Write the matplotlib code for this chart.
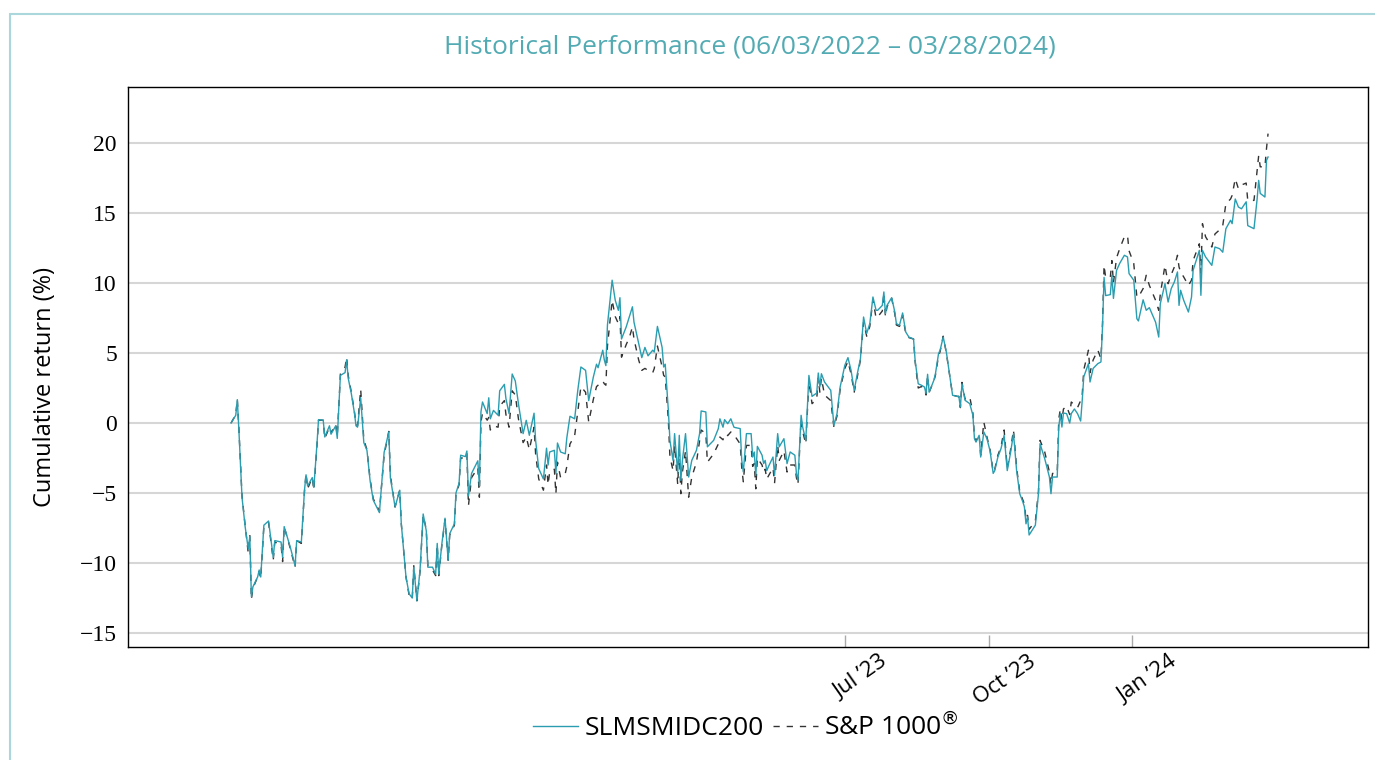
import pandas as pd
import matplotlib
matplotlib.use("Agg")
from matplotlib import pyplot as plt
from matplotlib.patches import Rectangle
import matplotlib.transforms as mtransforms

# days counted from the first date of the period
start_date = "2022-06-03"
day_offsets = [
    0, 3, 4, 5, 7, 9, 11, 12, 13, 14, 17, 18, 19, 21, 24, 27, 28, 32, 33, 34, 38, 41, 42, 45, 47,
    48, 49, 52, 53, 55, 56, 59, 60, 63, 64, 67, 68, 69, 70, 73, 74, 75, 77, 79, 80, 81, 83, 85,
    87, 89, 91, 95, 98, 101, 102, 103, 105, 108, 109, 112, 114, 116, 117, 119, 121, 123, 125, 126, 129, 131, 132, 133,
    135, 137, 139, 140, 143, 144, 146, 147, 150, 151, 152, 154, 158, 159, 160, 161, 164, 165, 166, 168, 171,
    172, 175, 176, 178, 180, 182, 184, 187, 189, 191, 194, 195, 197, 200, 202, 203, 204, 207, 208, 209,
    211, 214, 215, 217, 220, 222, 224, 227, 229, 232, 234, 235, 238, 239, 240, 241,
    244, 246, 248, 249, 250, 253, 255, 257, 258, 261, 263, 265, 267, 270, 271, 273, 276, 277, 278, 280,
    281, 283, 284, 286, 287, 288, 289, 291, 293, 295, 298, 300, 301, 304, 305, 309, 312, 313, 315, 316,
    318, 320, 322, 323, 326,
    327, 328, 330, 333, 334, 335, 336, 337, 340, 341, 342, 343, 344, 347, 348, 350, 351, 354, 356, 358,
    361, 362, 363, 365, 366, 368, 370, 372, 375, 376, 377, 378, 380, 384, 386, 388, 390, 393, 395, 397,
    399, 401, 403,
    404, 405, 407, 409, 411, 413, 414, 417, 418, 419, 420, 423, 425, 426, 428, 430, 432, 434, 437, 438,
    440, 442, 444, 445, 446, 447, 450, 451, 453, 454, 456, 458, 460, 462, 465, 466, 467, 468, 470, 473,
    475, 476, 477, 479, 480, 482, 484, 486,
    488, 489, 491, 493, 495, 497, 499, 501, 503, 505, 507, 508, 509, 510, 511, 515, 517, 518, 521, 524,
    525, 526, 529, 530, 531, 532, 533, 535, 537, 538, 540, 542, 544, 545, 546, 549, 550, 552, 555, 557,
    558, 559, 560, 563, 564, 565, 567, 569, 572, 574, 575,
    578, 580, 581, 584, 586, 588, 592, 594, 595, 598, 600, 602, 604, 606, 607, 608, 610, 613, 615, 616,
    620, 621, 622, 624, 628, 630, 633, 635, 637, 640, 641, 643, 645, 647, 650, 651, 655, 657, 658, 659,
    662, 663, 664,
]

slms_return = [
    0, 0.55, 1.67, -0.5, -5.3, -7.4, -9.0, -8.1, -12.4, -11.7, -11.0, -10.5, -11.0, -7.3, -7.0, -9.6, -8.4, -8.5, -9.6, -7.4,
    -8.9, -10.2, -8.4, -8.5, -4.8, -3.7, -4.5, -3.9, -4.6, -1.5, 0.24, 0.2, -1.0, -0.2, -0.8, -0.2, -1.1, 1.1, 3.4, 3.6,
    4.5, 3.2, 2.1, 0.7, -0.2, -0.3, 1.8, -1.4,
    -1.95, -4.1, -5.5, -6.4, -2.1, -0.64, -3.9, -4.6, -6.0, -4.8, -7.2, -11.0, -12.2, -12.5, -10.3, -12.7, -10.5, -6.5, -7.7, -10.3,
    -10.3, -10.8, -8.6, -10.8, -8.6, -6.8, -9.8, -7.9, -7.2, -5.0, -4.3, -2.3, -2.4, -2.0, -5.2, -3.6, -2.7, -4.5, 0.8, 1.5,
    0.67, 1.8, 0.3, 0.9, 0.55,
    2.3, 2.76, 1.74, 0.67, 3.5, 3.0, 1.38, -0.76, 0.19, -0.88, 0.7, -1.24, -3.26, -4.0, -1.8, -3.0, -2.07, -1.95, -3.6, -1.43,
    -2.07, -2.2, -1.05, 0.48, 0.3, 2.33, 4.0, 3.76, 1.6, 3.3, 4.2, 3.95, 5.2, 4.5, 4.1, 7.0,
    10.2, 8.76, 8.05, 8.95, 6.0, 6.86, 7.57, 8.3, 7.2, 5.67, 4.67, 5.4, 4.8, 5.2, 5.07, 6.9, 5.4, 4.0, 4.2, 0.9,
    -1.24, -2.67, -0.76, -3.6, -0.88, -4.1, -2.67, -0.76, -3.86, -2.67, -1.95, -0.76, 0.86, 0.79, -1.7, -1.24, -0.4, 0.3, -0.3, 0.24,
    -0.05, 0.3, -0.3, -0.33, -0.4,
    -2.67, -3.5, -0.76, -0.76, -2.43, -2.07, -3.74, -1.67, -2.3, -2.9, -2.67, -3.4, -3.14, -2.43, -3.74, -0.76, -1.7, -1.12, -2.9, -2.07,
    -2.3, -3.6, -4.1, 0.55, -0.29, -1.24, 3.4, 1.9, 2.14, 3.57, 2.57, 3.52, 2.93, 2.33, -0.17, 0.67, 2.57, 4.12, 4.67, 3.76,
    2.33, 3.52, 4.6,
    6.1, 7.57, 6.4, 7.1, 9.0, 8.05, 8.05, 8.4, 9.36, 7.8, 8.4, 8.95, 7.93, 7.1, 6.98, 7.86, 6.5, 6.14, 6.0, 4.48,
    2.8, 2.7, 2.57, 2.1, 3.48, 2.2, 3.05, 3.5, 4.95, 5.2, 6.14, 5.07, 3.52, 1.98, 1.9, 1.9, 1.14, 2.8, 1.62, 1.38,
    0.55, -1.12, -1.36, -0.88, -2.43, -0.64, -1.12, -2.0,
    -3.6, -3.4, -2.43, -1.83, -0.88, -3.4, -2.2, -0.76, -3.4, -5.05, -5.64, -6.0, -7.2, -6.7, -8.0, -7.3, -5.05, -1.48, -2.55, -3.86,
    -5.05, -3.86, -3.86, -0.29, 0.67, -0.29, 0.71, 0.67, 0.0, 0.67, 1.0, 0.67, 0.14, 1.6, 3.3, 4.24, 2.93, 3.9, 4.24, 4.36,
    6.86, 10.4, 9.1, 9.17, 10.55, 8.9, 10.9, 11.4, 11.98, 11.86, 10.67,
    10.2, 7.45, 7.29, 8.8, 8.05, 8.24, 7.2, 6.14, 8.52, 9.95, 8.64, 9.6, 10.07, 10.79, 8.4, 9.48, 8.76, 7.93, 9.0, 10.9,
    12.33, 9.12, 12.33, 11.86, 11.26, 12.57, 12.45, 12.2, 13.88, 14.48, 14.24, 16.0, 15.43, 15.3, 15.8, 14.1, 13.88, 16.0, 17.33, 16.4,
    16.14, 18.76, 19.0,
]

sp1000_return = [
    0, 0.6, 1.7, -0.4, -5.2, -7.3, -9.3, -8.0, -12.6, -11.8, -11.0, -10.6, -11.1, -7.4, -7.1, -9.8, -8.5, -8.7, -9.9, -7.4,
    -9.0, -10.3, -8.4, -8.6, -4.9, -3.6, -4.7, -3.9, -4.8, -1.6, 0.2, 0.2, -1.1, -0.3, -0.7, -0.1, -0.9, 1.2, 3.5, 4.0,
    4.7, 3.4, 2.2, 0.8, -0.1, -0.2, 2.4, -1.2,
    -1.9, -4.0, -5.4, -6.3, -2.3, -0.6, -3.7, -4.5, -6.0, -4.8, -7.2, -11.0, -12.3, -12.6, -10.2, -12.7, -10.6, -6.6, -7.6, -10.2,
    -10.5, -10.9, -8.7, -10.9, -8.7, -6.9, -9.8, -8.0, -7.3, -5.1, -4.4, -2.5, -2.5, -2.2, -5.9, -3.9, -3.2, -5.3, 0.1, 0.7,
    0.2, 0.4, -0.5, -0.2, -0.3,
    1.2, 1.6, 0.6, -0.3, 2.3, 2.0, 0.3, -1.4, -1.0, -1.9, -0.3, -2.2, -4.0, -4.8, -3.0, -4.4, -3.5, -3.3, -5.05, -2.8,
    -3.9, -3.6, -3.1, -1.5, -0.9, 0.8, 2.6, 2.2, 0.07, 1.7, 2.6, 2.7, 3.0, 2.8, 2.7, 5.5,
    8.76, 7.6, 7.1, 7.6, 4.7, 5.6, 6.1, 6.86, 6.0, 4.5, 3.76, 3.9, 3.76, 3.6, 3.9, 5.5, 4.0, 3.4, 3.3, 0.2,
    -2.4, -3.4, -1.6, -4.4, -2.0, -5.05, -3.5, -2.0, -5.3, -3.86, -2.8, -1.24, -0.5, -0.76, -2.8, -2.2, -1.5, -1.0, -1.2, -0.8,
    -0.9, -0.64, -0.9, -1.0, -1.5,
    -3.2, -4.2, -1.6, -1.6, -3.1, -2.9, -4.7, -2.5, -3.0, -3.5, -3.3, -4.0, -3.8, -3.2, -4.3, -1.6, -2.67, -2.0, -3.5, -3.0,
    -3.0, -3.9, -4.4, 0.3, -0.6, -1.5, 3.0, 1.38, 1.7, 3.2, 2.2, 3.2, 2.0, 1.6, -0.3, 0.5, 2.4, 3.9, 4.4, 3.5,
    2.2, 3.3, 4.5,
    5.9, 7.2, 6.2, 6.9, 8.8, 7.5, 7.57, 8.0, 9.3, 7.6, 8.3, 8.9, 7.8, 7.0, 6.9, 7.7, 6.4, 6.1, 6.0, 4.4,
    2.5, 2.6, 2.5, 2.0, 3.4, 2.2, 3.0, 3.4, 4.8, 5.1, 6.2, 5.0, 3.5, 2.0, 1.9, 1.9, 1.1, 2.9, 1.7, 1.86,
    0.7, -1.0, -1.3, -0.8, -2.3, 0.07, -1.0, -1.9,
    -3.5, -3.3, -2.3, -1.7, -0.5, -3.2, -2.0, -0.5, -3.2, -4.9, -5.5, -5.8, -6.9, -6.6, -7.6, -7.0, -4.9, -1.24, -2.07, -3.5,
    -4.4, -3.6, -3.6, 0.3, 1.0, 0.2, 1.0, 1.2, 0.6, 1.5, 1.3, 1.1, 1.6, 2.0, 3.8, 5.2, 3.6, 4.5, 5.2, 4.6,
    7.1, 11.26, 10.4, 10.4, 11.6, 10.0, 11.8, 12.45, 13.3, 13.4, 12.3,
    11.4, 9.0, 9.0, 9.6, 10.55, 9.83, 8.76, 8.05, 9.2, 11.26, 9.95, 10.6, 11.14, 11.98, 11.14, 10.8, 10.43, 9.83, 10.2, 11.6,
    12.8, 10.7, 14.24, 13.3, 12.57, 13.5, 13.8, 14.1, 15.67, 16.0, 16.26, 17.45, 16.74, 17.0, 17.14, 15.9, 15.9, 18.05, 19.1, 18.3,
    18.3, 19.6, 20.67,
]

y_ticks = [-15, -10, -5, 0, 5, 10, 15, 20]
x_tick_dates = ["2023-07-01", "2023-10-01", "2024-01-01"]
x_tick_labels = ["Jul \u201923", "Oct \u201923", "Jan \u201924"]

dates = pd.Timestamp(start_date) + pd.to_timedelta(day_offsets, unit="D")

teal = "#2a9db0"
title_teal = "#52abb3"
sans = ["Open Sans", "DejaVu Sans"]

fig = plt.figure(figsize=(13.75, 7.6), dpi=100)
ax = fig.add_axes([128 / 1375, 1 - 647 / 760, 1240 / 1375, 560 / 760])

ax.plot(dates, slms_return, color=teal, lw=1.0, label="SLMSMIDC200", zorder=3)
ax.plot(dates, sp1000_return, color="#333333", lw=1.0, dashes=(4.5, 5),
        label="S&P 1000$^{\u00ae}$", zorder=2)

ax.set_xlim(pd.Timestamp("2022-03-29"), pd.Timestamp("2024-05-31"))
ax.set_ylim(-16, 24)
ax.set_yticks(y_ticks)
ax.set_yticklabels(["\u2212%d" % -t if t < 0 else str(t) for t in y_ticks],
                   fontfamily="Liberation Serif", fontsize=17)
ax.grid(axis="y", color="#d6d6d6", lw=1.5)
ax.set_axisbelow(True)
ax.tick_params(axis="y", length=0, pad=8)

ax.set_xticks(pd.to_datetime(x_tick_dates))
ax.set_xticklabels(x_tick_labels, rotation=35, ha="center", fontfamily=sans, fontsize=16)
ax.tick_params(axis="x", direction="in", length=9, color="#aaaaaa", width=1, pad=3)
shift = mtransforms.ScaledTranslation(16 / 100, 0, fig.dpi_scale_trans)
for lab in ax.get_xticklabels():
    lab.set_transform(lab.get_transform() + shift)

for sp in ax.spines.values():
    sp.set_color("black")
    sp.set_linewidth(1)

ax.set_ylabel("Cumulative return (%)", fontfamily=sans, fontsize=17)
ax.yaxis.set_label_coords(-0.057, 0.464)

fig.text(750 / 1375, 1 - 47 / 760, "Historical Performance (06/03/2022 \u2013 03/28/2024)",
         ha="center", va="center", color=title_teal, fontfamily=sans, fontsize=19)

fig.legend(loc="center", bbox_to_anchor=(746 / 1375, 1 - 727 / 760), ncol=2, frameon=False,
           prop={"family": sans, "size": 19}, handlelength=1.7, handletextpad=0.25,
           columnspacing=0.35)

fig.patches.append(Rectangle((10 / 1375, -0.05), 1.1, 1 - 14 / 760 + 0.05,
                             transform=fig.transFigure, fill=False,
                             edgecolor="#a9d7db", lw=1.5))

fig.savefig("out.png", dpi=100)
